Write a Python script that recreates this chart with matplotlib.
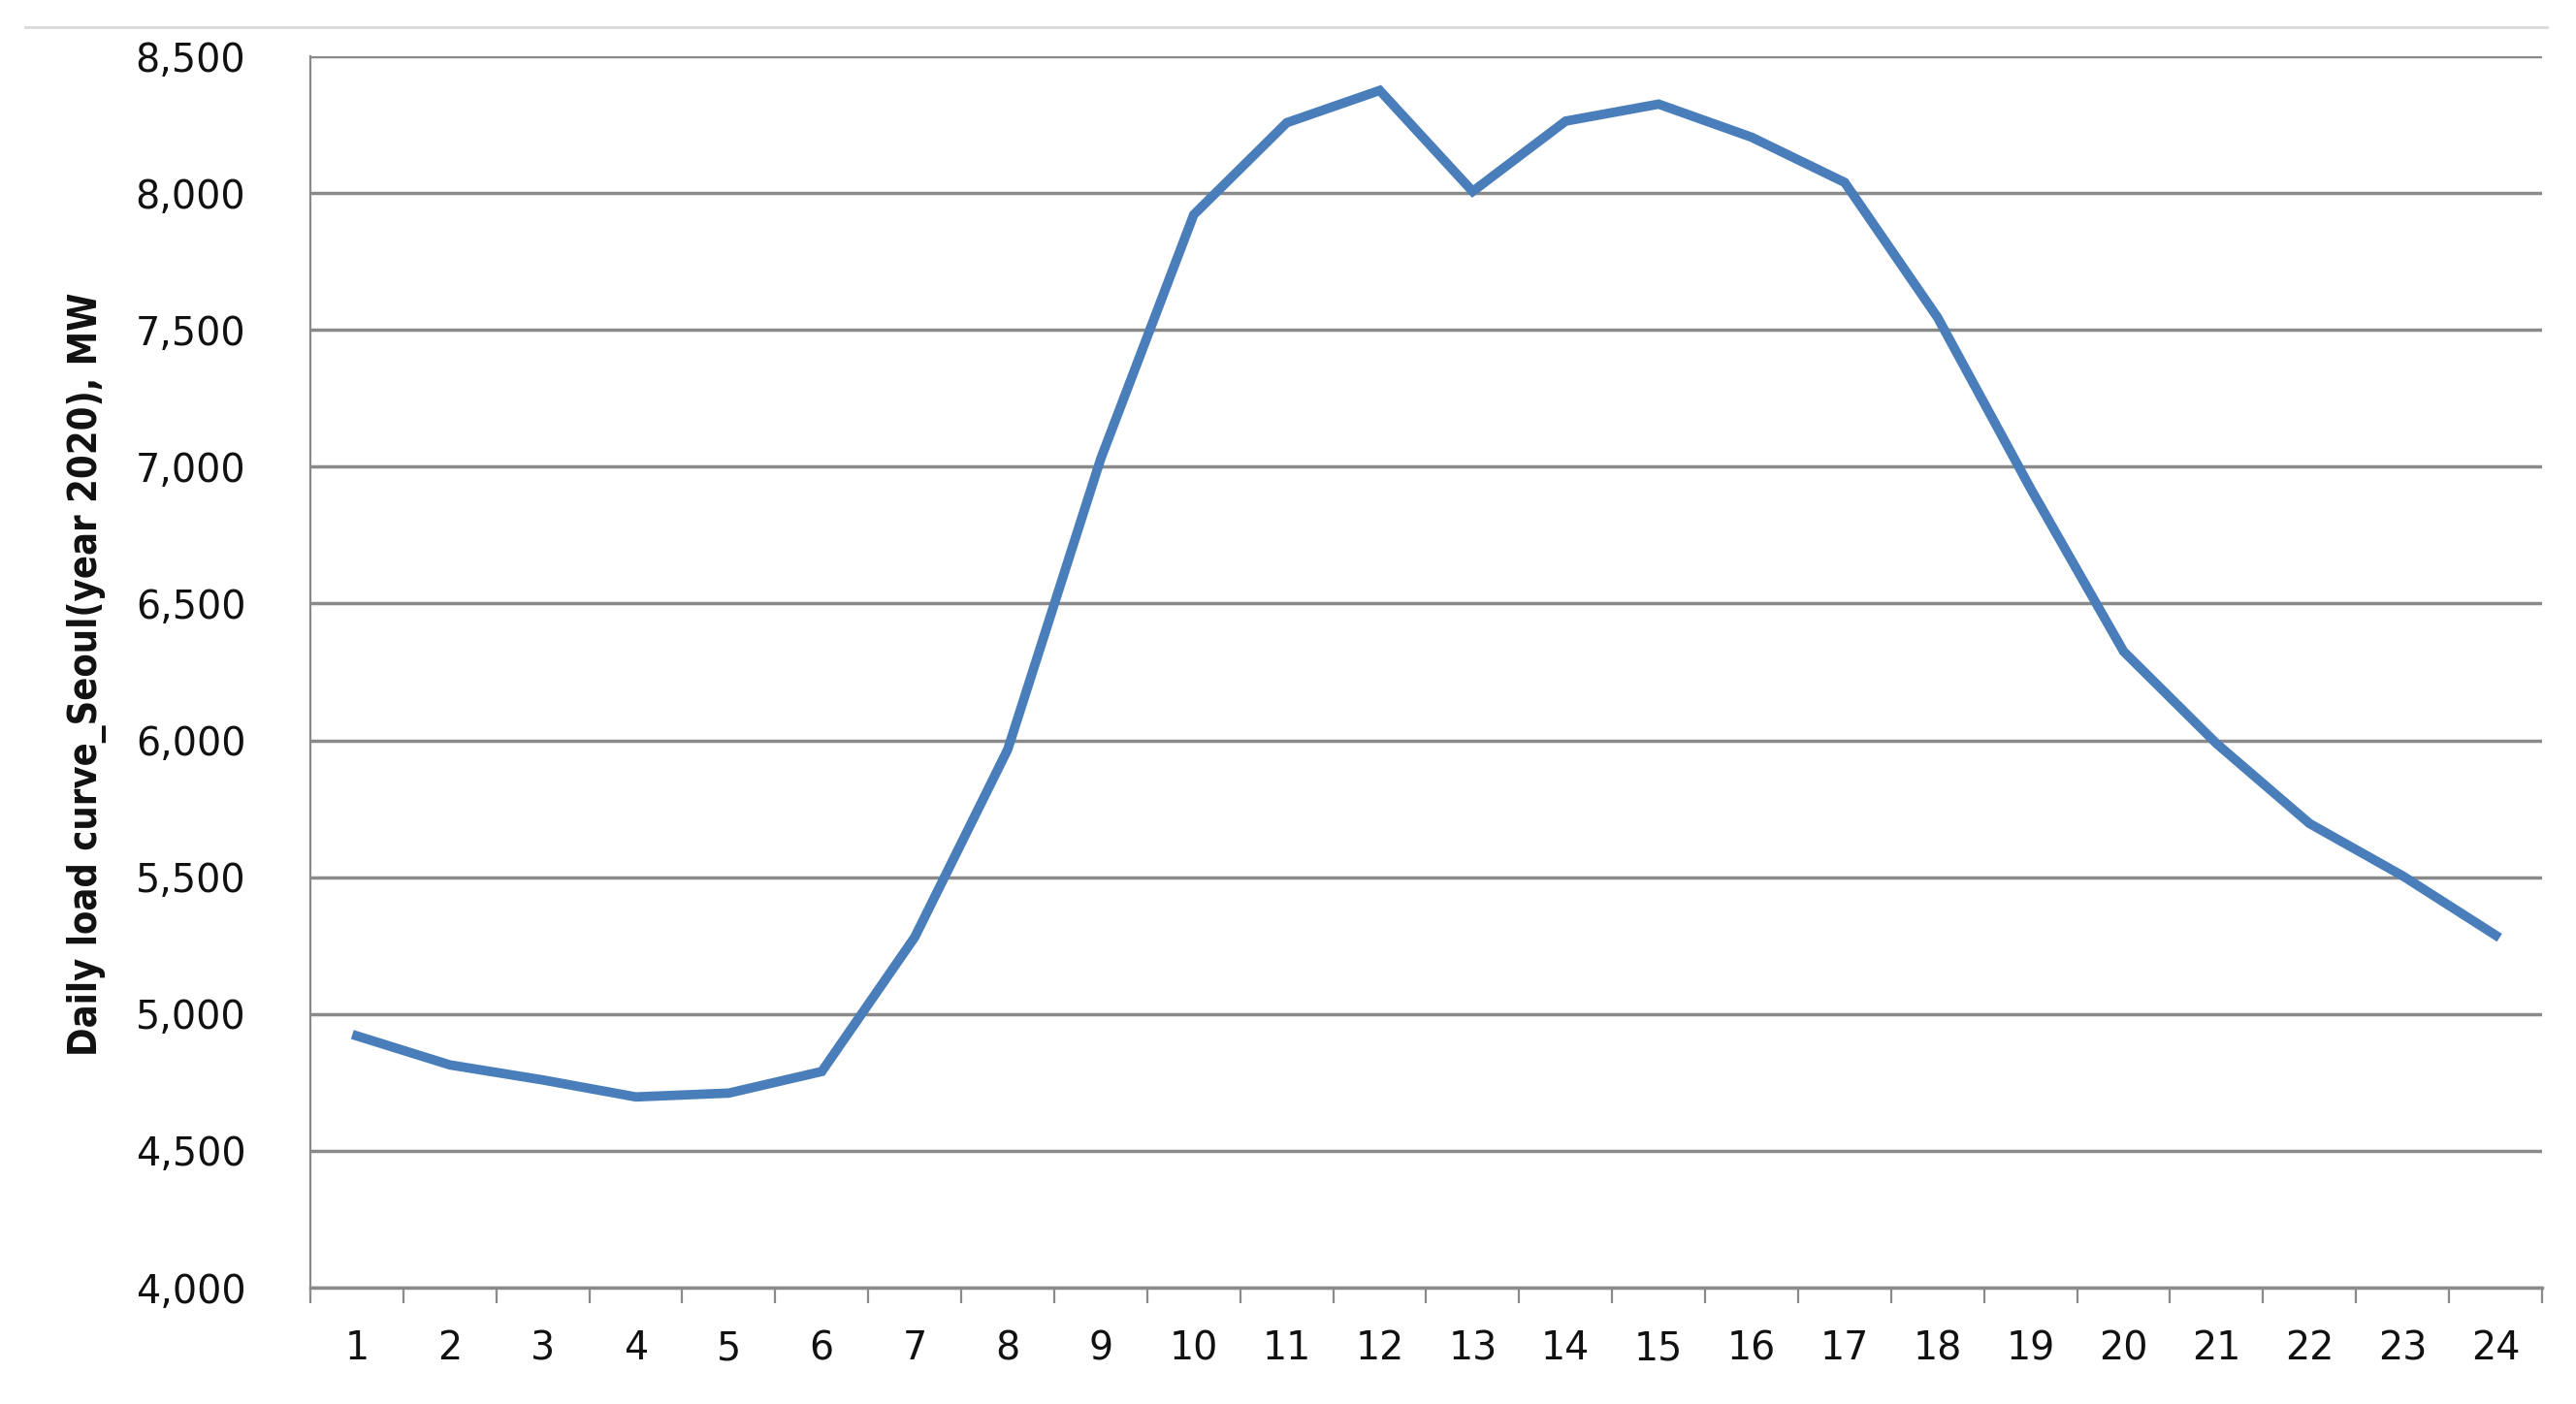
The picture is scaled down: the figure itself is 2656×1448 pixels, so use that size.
import numpy as np
import matplotlib.pyplot as plt
from matplotlib.lines import Line2D
from matplotlib.ticker import FuncFormatter

# hourly load values
hours = list(range(1, 25))
load_mw = [4920, 4814, 4759, 4697, 4711, 4790, 5281, 5967, 7029, 7921, 8257, 8375,
           8006, 8263, 8325, 8204, 8039, 7545, 6920, 6325, 5988, 5696, 5505, 5288]
y_ticks = [4000, 4500, 5000, 5500, 6000, 6500, 7000, 7500, 8000, 8500]

LINE_BLUE = '#4a7ebb'
GRID_GRAY = '#8a8a8a'

fig = plt.figure(figsize=(26.56, 14.48), dpi=100)
ax = fig.add_axes([0.12048, 0.08287, 0.86634, 0.87707])

ax.plot(hours, load_mw, color=LINE_BLUE, lw=7, solid_joinstyle='miter', zorder=3)

ax.set_xlim(0.5, 24.5)
ax.set_ylim(4000, 8500)
ax.set_yticks(y_ticks)
ax.yaxis.set_major_formatter(FuncFormatter(lambda v, p: f'{int(v):,}'))
ax.grid(axis='y', color=GRID_GRAY, lw=2.5)
ax.set_axisbelow(True)

# category axis: labels at centres, tick marks between categories
ax.set_xticks(hours)
ax.set_xticklabels([str(h) for h in hours])
ax.set_xticks(np.arange(0.5, 25, 1), minor=True)
ax.tick_params(axis='x', which='major', length=0, pad=31, labelsize=28.5, labelcolor='#111111')
ax.tick_params(axis='x', which='minor', length=11.5, width=1.6, color=GRID_GRAY, direction='out')
ax.tick_params(axis='y', length=0, pad=48, labelsize=28.5, labelcolor='#111111')

for side in ['top', 'right']:
    ax.spines[side].set_visible(False)
ax.spines['left'].set_color(GRID_GRAY)
ax.spines['left'].set_linewidth(1.6)
ax.spines['bottom'].set_color(GRID_GRAY)
ax.spines['bottom'].set_linewidth(2.5)

fig.text(90 / 2656, 1 - 695 / 1448, 'Daily load curve_Seoul(year 2020), MW',
         rotation=90, ha='center', va='center', fontsize=28.5, fontweight='bold',
         fontstretch='condensed', color='#111111')

# thin light rule above the chart
fig.add_artist(Line2D([26 / 2656, 2626 / 2656], [1 - 28 / 1448, 1 - 28 / 1448],
                      color='#d9d9d9', lw=2))

fig.savefig('out.png', dpi=100)
